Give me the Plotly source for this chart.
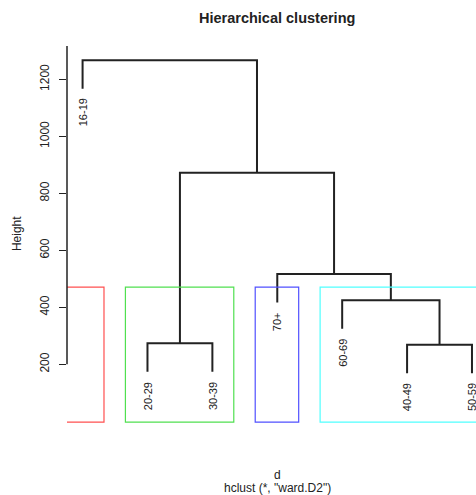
import plotly.graph_objects as go

# ---------------- data ----------------
leaf_labels = ["16-19", "20-29", "30-39", "70+", "60-69", "40-49", "50-59"]
# hclust-style merge table (negative = leaf index in display order, positive = earlier merge)
merge_a = [-6, -2, -5, -4, 2, -1]
merge_b = [-7, -3, 1, 3, 4, 5]
merge_height = [269, 274, 425, 517, 872, 1267]
cluster_of_leaf = [1, 2, 2, 3, 4, 4, 4]
cluster_colors = ["#FF5050", "#50E050", "#5050FF", "#50FFFF"]
y_ticks = [200, 400, 600, 800, 1000, 1200]

FONT = "Liberation Sans, Arial, sans-serif"
INK = "#222222"

hang = 0.1 * (max(merge_height) - min(merge_height))

# ---------------- dendrogram geometry ----------------
node_x = {}
xs, ys = [], []
leaf_bottom = {}
for k, (a, b, h) in enumerate(zip(merge_a, merge_b, merge_height), start=1):
    pts = []
    for c in (a, b):
        if c < 0:
            cx = -c
            cy = h - hang
            leaf_bottom[cx] = cy
        else:
            cx = node_x[c]
            cy = merge_height[c - 1]
        pts.append((cx, cy))
    (x1, y1), (x2, y2) = pts
    xs += [x1, x1, x2, x2, None]
    ys += [y1, h, h, y2, None]
    node_x[k] = (x1 + x2) / 2

fig = go.Figure()
fig.add_trace(go.Scatter(x=xs, y=ys, mode="lines",
                         line=dict(color=INK, width=2),
                         hoverinfo="skip", showlegend=False))

# ---------------- cluster rectangles (rect.hclust style) ----------------
n_clusters = max(cluster_of_leaf)
sorted_h = sorted(merge_height, reverse=True)
cut_h = (sorted_h[n_clusters - 2] + sorted_h[n_clusters - 1]) / 2
Y_LO = -9.3
Y_HI = 1317
usr_bottom = -2.5
for c in range(1, n_clusters + 1):
    idx = [i + 1 for i, v in enumerate(cluster_of_leaf) if v == c]
    fig.add_shape(type="rect", xref="x", yref="y",
                  x0=min(idx) - 0.34, x1=max(idx) + 0.33,
                  y0=usr_bottom, y1=cut_h,
                  line=dict(color=cluster_colors[c - 1], width=1.2),
                  fillcolor="rgba(0,0,0,0)")

# leaf labels
for i, lab in enumerate(leaf_labels, start=1):
    fig.add_annotation(x=i, y=leaf_bottom[i], xref="x", yref="y",
                       text=lab, textangle=-90, showarrow=False,
                       xanchor="center", yanchor="top", yshift=-8,
                       font=dict(family=FONT, size=11, color=INK))

# y axis line (from first tick upwards)
fig.add_shape(type="line", xref="paper", yref="y", x0=0, x1=0,
              y0=y_ticks[0], y1=Y_HI, line=dict(color=INK, width=1.5))

# titles
fig.add_annotation(x=4.0, xref="x", y=1, yref="paper", yshift=28,
                   text="<b>Hierarchical clustering</b>", showarrow=False,
                   xanchor="center", yanchor="middle",
                   font=dict(family=FONT, size=14.5, color=INK))
fig.add_annotation(x=0, xref="paper", xshift=-50, y=657, yref="y",
                   text="Height", textangle=-90, showarrow=False,
                   xanchor="center", yanchor="middle",
                   font=dict(family=FONT, size=12, color=INK))
fig.add_annotation(x=4.0, xref="x", y=0, yref="paper", yshift=-51,
                   text="d", showarrow=False, xanchor="center", yanchor="middle",
                   font=dict(family=FONT, size=12, color=INK))
fig.add_annotation(x=4.0, xref="x", y=0, yref="paper", yshift=-64,
                   text='hclust (*, "ward.D2")', showarrow=False,
                   xanchor="center", yanchor="middle",
                   font=dict(family=FONT, size=12, color=INK))

fig.update_layout(
    width=476, height=495,
    margin=dict(l=67, r=0, t=46, b=71),
    paper_bgcolor="white", plot_bgcolor="white",
    showlegend=False,
    xaxis=dict(range=[0.76, 7.062], visible=False),
    yaxis=dict(range=[Y_LO, Y_HI], tickvals=y_ticks,
               ticks="outside", ticklen=7, tickwidth=1.5, tickcolor=INK,
               tickangle=-90, ticklabelstandoff=5,
               showline=False, showgrid=False, zeroline=False,
               tickfont=dict(family=FONT, size=12, color=INK)),
)

fig.write_html("out.html",
               config={"displayModeBar": False, "staticPlot": True},
               post_script="document.body.style.margin='0px';"
                           "document.body.style.overflow='hidden';")
